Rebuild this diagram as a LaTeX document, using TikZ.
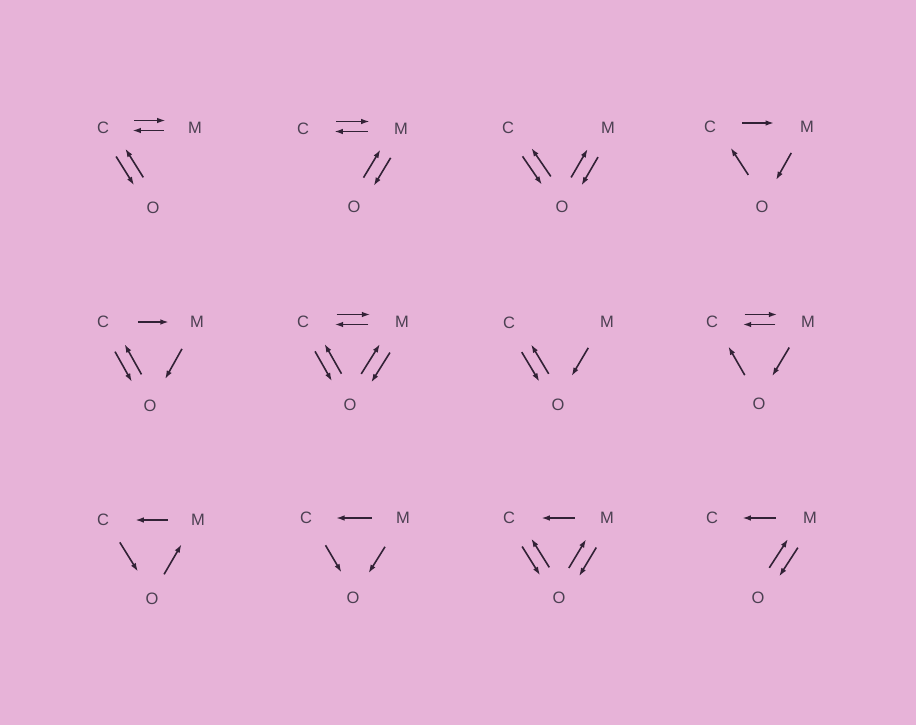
\documentclass[tikz,border=0pt]{standalone}
\usepackage{fontspec}
\setmainfont{Liberation Sans}
\usetikzlibrary{calc,arrows.meta}
\definecolor{bgpink}{RGB}{231,179,216}
\definecolor{lettergray}{RGB}{76,64,82}
\definecolor{arrowdark}{RGB}{50,34,54}
\tikzset{
  lbl/.style={text=lettergray,font=\fontsize{16.5}{19}\selectfont,inner sep=0pt},
  arr/.style={draw=arrowdark,line width=1.6pt,-{Latex[length=8.5pt,width=5.6pt]}}
}
% #1 from node, #2 to node, #3 t1, #4 t2, #5 offset, #6 angle
\newcommand\lnk[6]{\draw[arr] ($(#1)!#3!(#2)!#5!#6:(#2)$) -- ($(#1)!#4!(#2)!#5!#6:(#2)$);}
% horizontal pair C<->M
\newcommand\hpair[2]{\lnk{#1}{#2}{0.34}{0.68}{7.5pt}{90}\lnk{#2}{#1}{0.34}{0.68}{2.5pt}{90}}
% C-O pair
\newcommand\copair[2]{\lnk{#1}{#2}{0.33}{0.69}{4pt}{-90}\lnk{#2}{#1}{0.33}{0.69}{8pt}{-90}}
% M-O pair
\newcommand\mopair[2]{\lnk{#1}{#2}{0.33}{0.69}{6pt}{90}\lnk{#2}{#1}{0.33}{0.69}{7pt}{90}}
\begin{document}
\begin{tikzpicture}[x=1pt,y=-1pt]
\fill[bgpink] (0,0) rectangle (916,725);
\useasboundingbox (0,0) rectangle (916,725);
% ---------- row 1 ----------
\node[lbl] (C1) at (103,128) {C};
\node[lbl] (M1) at (195,128) {M};
\node[lbl] (O1) at (153,208) {O};
\hpair{C1}{M1}
\copair{C1}{O1}

\node[lbl] (C2) at (303,129) {C};
\node[lbl] (M2) at (401,129) {M};
\node[lbl] (O2) at (354,207) {O};
\hpair{C2}{M2}
\mopair{M2}{O2}

\node[lbl] (C3) at (508,128) {C};
\node[lbl] (M3) at (608,128) {M};
\node[lbl] (O3) at (562,207) {O};
\copair{C3}{O3}
\mopair{M3}{O3}

\node[lbl] (C4) at (710,127) {C};
\node[lbl] (M4) at (807,127) {M};
\node[lbl] (O4) at (762,207) {O};
\lnk{C4}{M4}{0.33}{0.66}{4pt}{90}
\lnk{M4}{O4}{0.33}{0.67}{1pt}{-90}
\lnk{O4}{C4}{0.36}{0.70}{6pt}{-90}
% ---------- row 2 ----------
\node[lbl] (C5) at (103,322) {C};
\node[lbl] (M5) at (197,322) {M};
\node[lbl] (O5) at (150,406) {O};
\lnk{C5}{M5}{0.37}{0.70}{0pt}{90}
\copair{C5}{O5}
\lnk{M5}{O5}{0.32}{0.68}{0pt}{-90}

\node[lbl] (C6) at (303,322) {C};
\node[lbl] (M6) at (402,322) {M};
\node[lbl] (O6) at (350,405) {O};
\hpair{C6}{M6}
\copair{C6}{O6}
\mopair{M6}{O6}

\node[lbl] (C7) at (509,323) {C};
\node[lbl] (M7) at (607,322) {M};
\node[lbl] (O7) at (558,405) {O};
\copair{C7}{O7}
\lnk{M7}{O7}{0.33}{0.67}{3pt}{-90}

\node[lbl] (C8) at (712,322) {C};
\node[lbl] (M8) at (808,322) {M};
\node[lbl] (O8) at (759,404) {O};
\hpair{C8}{M8}
\lnk{O8}{C8}{0.34}{0.69}{2pt}{-90}
\lnk{M8}{O8}{0.33}{0.68}{3pt}{-90}
% ---------- row 3 ----------
\node[lbl] (C9) at (103,520) {C};
\node[lbl] (M9) at (198,520) {M};
\node[lbl] (O9) at (152,599) {O};
\lnk{M9}{C9}{0.32}{0.66}{0pt}{90}
\lnk{C9}{O9}{0.30}{0.67}{2.5pt}{90}
\lnk{O9}{M9}{0.30}{0.68}{2pt}{90}

\node[lbl] (C10) at (306,518) {C};
\node[lbl] (M10) at (403,518) {M};
\node[lbl] (O10) at (353,598) {O};
\lnk{M10}{C10}{0.32}{0.69}{0pt}{90}
\lnk{C10}{O10}{0.36}{0.70}{3pt}{90}
\lnk{M10}{O10}{0.36}{0.69}{0pt}{-90}

\node[lbl] (C11) at (509,518) {C};
\node[lbl] (M11) at (607,518) {M};
\node[lbl] (O11) at (559,598) {O};
\lnk{M11}{C11}{0.33}{0.67}{0pt}{90}
\copair{C11}{O11}
\mopair{M11}{O11}

\node[lbl] (C12) at (712,518) {C};
\node[lbl] (M12) at (810,518) {M};
\node[lbl] (O12) at (758,598) {O};
\lnk{M12}{C12}{0.35}{0.69}{0pt}{90}
\mopair{M12}{O12}
\end{tikzpicture}
\end{document}
